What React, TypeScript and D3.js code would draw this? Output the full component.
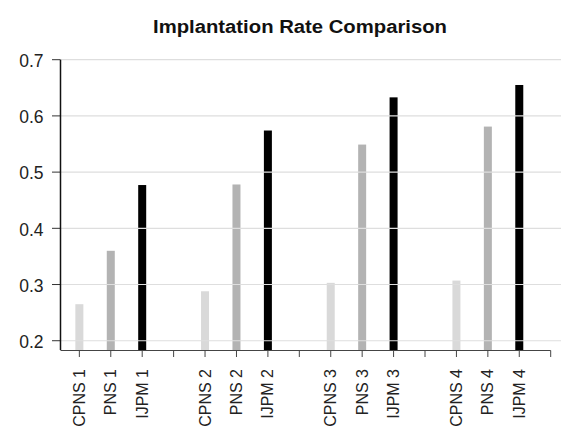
import React from "react";
import * as d3 from "d3";

const categories = [
  "CPNS 1", "PNS 1", "IJPM 1", "",
  "CPNS 2", "PNS 2", "IJPM 2", "",
  "CPNS 3", "PNS 3", "IJPM 3", "",
  "CPNS 4", "PNS 4", "IJPM 4", "",
];
const groups = ["CPNS", "PNS", "IJPM"];
const cpnsValues = [0.265, 0.288, 0.303, 0.307];
const pnsValues = [0.36, 0.478, 0.549, 0.581];
const ijpmValues = [0.477, 0.574, 0.633, 0.655];
const yTicks = [0.2, 0.3, 0.4, 0.5, 0.6, 0.7];
const title = "Implantation Rate Comparison";

const colors: Record<string, string> = { CPNS: "#d9d9d9", PNS: "#b3b3b3", IJPM: "#000000" };

export default function App() {
  const W = 561, H = 428;
  const x = d3.scaleLinear().domain([-0.6, 15]).range([60.5, 550.7]);
  const y = d3.scaleLinear().domain([0.1835, 0.7]).range([350, 59.7]);
  const seriesVals = [cpnsValues, pnsValues, ijpmValues];
  const bars: { i: number; v: number; g: string }[] = [];
  for (let k = 0; k < 4; k++) {
    for (let s = 0; s < 3; s++) {
      bars.push({ i: k * 4 + s, v: seriesVals[s][k], g: groups[s] });
    }
  }
  const bw = 8;
  const font = "'Liberation Sans', Arial, sans-serif";
  return (
    <svg width={W} height={H} style={{ position: "absolute", left: 0, top: 0, background: "#fff" }}>
      <rect width={W} height={H} fill="#fff" />
      <text
        x={300}
        y={33}
        textAnchor="middle"
        fontFamily={font}
        fontWeight="bold"
        fontSize={18}
        textLength={294}
        lengthAdjust="spacingAndGlyphs"
        fill="#111"
      >
        {title}
      </text>
      {bars.map((b, j) => (
        <rect key={j} x={x(b.i) - bw / 2} y={y(b.v)} width={bw} height={350 - y(b.v)} fill={colors[b.g]} />
      ))}
      {yTicks.map((t) => (
        <g key={t}>
          <line x1={61} x2={W} y1={y(t)} y2={y(t)} stroke="#dedede" strokeWidth={1.2} />
          <line x1={52} x2={60.5} y1={y(t)} y2={y(t)} stroke="#333" strokeWidth={1} />
          <text x={43.5} y={y(t)} dy="0.42em" textAnchor="end" fontFamily={font} fontSize={17.5} fill="#222">
            {d3.format(".1f")(t)}
          </text>
        </g>
      ))}
      <line x1={60.5} x2={60.5} y1={y(0.7)} y2={350} stroke="#111" strokeWidth={1.5} />
      <line x1={60.5} x2={550.7} y1={350.5} y2={350.5} stroke="#444" strokeWidth={1} />
      {categories.map((c, i) => (
        <g key={i}>
          <line x1={x(i)} x2={x(i)} y1={350.5} y2={357} stroke="#444" strokeWidth={1} />
          {c && (
            <text
              transform={`translate(${x(i) + 5.5},${369}) rotate(-90)`}
              textAnchor="end"
              fontFamily={font}
              fontSize={16}
              fill="#222"
            >
              {c}
            </text>
          )}
        </g>
      ))}
    </svg>
  );
}
